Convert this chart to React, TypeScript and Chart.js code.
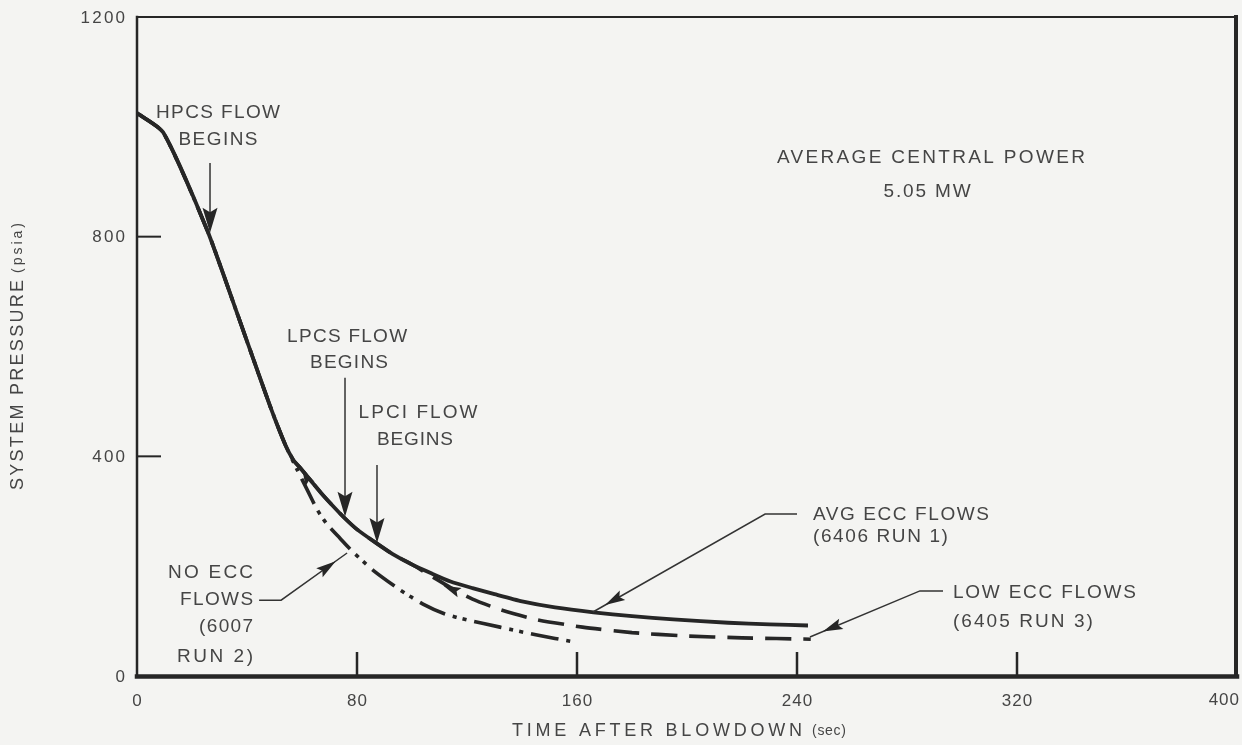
import React, { useEffect, useRef } from "react";
import { Chart, registerables } from "chart.js";

Chart.register(...registerables);

// Time after blowdown (s) and system pressure (psia) for each test.
// Average ECC flows, 6406 run 1 (solid).
const AVG_TIME = [0, 9.5, 25.5, 37, 48.5, 54, 57, 59, 63, 67, 71, 75, 80, 87, 93, 100, 107, 114, 122, 130, 140, 152, 166, 180, 195, 215, 230, 244];
const AVG_PSIA = [1025, 990, 812, 652, 490, 420, 392, 381, 357, 333, 311, 290, 267, 242, 222, 203, 187, 172, 160, 149, 136, 125, 116, 109, 103, 97, 94, 92];

// Low ECC flows, 6405 run 3 (dashed).
const LOW_TIME = [0, 9.5, 25.5, 37, 48.5, 54, 57, 59, 63, 67, 71, 75, 80, 87, 93, 100, 107, 114, 122, 132, 145, 162, 180, 199, 220, 245];
const LOW_PSIA = [1025, 990, 812, 652, 490, 420, 392, 381, 357, 333, 311, 290, 267, 242, 222, 203, 182, 161, 140, 121, 103, 89, 79, 73, 69.5, 67];

// No ECC flows, 6007 run 2 (dash-dot-dot).
const NO_TIME = [0, 9.5, 25.5, 37, 48.5, 54, 58, 62, 65.5, 69, 73.8, 78.5, 86, 95.6, 104, 112, 120, 132, 145, 159];
const NO_PSIA = [1025, 990, 812, 652, 490, 420, 378, 338, 303, 277, 251, 226, 192, 157, 131, 113, 102, 89, 75, 62];

const X_TICKS = [0, 80, 160, 240, 320, 400];
const Y_TICKS = [0, 400, 800, 1200];

const FONT = '"Liberation Sans", Arial, Helvetica, sans-serif';
const INK = "#262626";
const TEXT = "#454545";
const PAPER = "#f4f4f2";

type Align = "left" | "center" | "right";

// Callout text, placed in data units (t = seconds, p = psia).
type Note = { text: string; t: number; p: number; width: number; align: Align; size: number };
const NOTES: Note[] = [
  { text: "HPCS FLOW", t: 29.45, p: 1025, width: 124, align: "center", size: 19 },
  { text: "BEGINS", t: 29.45, p: 976, width: 79, align: "center", size: 19 },
  { text: "LPCS FLOW", t: 76.4, p: 617, width: 120, align: "center", size: 19 },
  { text: "BEGINS", t: 77.1, p: 570, width: 78, align: "center", size: 19 },
  { text: "LPCI FLOW", t: 102.2, p: 479, width: 119, align: "center", size: 19 },
  { text: "BEGINS", t: 101.1, p: 430, width: 76, align: "center", size: 19 },
  { text: "AVERAGE CENTRAL POWER", t: 288.7, p: 943, width: 308, align: "center", size: 19 },
  { text: "5.05 MW", t: 287.3, p: 881, width: 87, align: "center", size: 19 },
  { text: "AVG ECC FLOWS", t: 245.8, p: 293, width: 176, align: "left", size: 19 },
  { text: "(6406 RUN 1)", t: 245.8, p: 253, width: 135, align: "left", size: 19 },
  { text: "LOW ECC FLOWS", t: 296.7, p: 151, width: 183, align: "left", size: 19 },
  { text: "(6405 RUN 3)", t: 296.7, p: 98, width: 140, align: "left", size: 19 },
  { text: "NO ECC", t: 42.2, p: 188, width: 85, align: "right", size: 19 },
  { text: "FLOWS", t: 42.2, p: 138, width: 73, align: "right", size: 19 },
  { text: "(6007", t: 42.2, p: 89, width: 54, align: "right", size: 19 },
  { text: "RUN 2)", t: 42.2, p: 35, width: 76, align: "right", size: 19 },
];

// Vertical "flow begins" arrows: time, top of shaft, tip on the curve.
type Marker = { t: number; from: number; to: number };
const MARKERS: Marker[] = [
  { t: 26.55, from: 934, to: 807 },
  { t: 75.64, from: 543, to: 290 },
  { t: 87.27, from: 384, to: 242 },
];

// Leader lines from the run labels to their curves (poly-lines in data units).
const LEADERS: { t: number[]; p: number[] }[] = [
  { t: [240, 228.4, 165.8], p: [295, 295, 116.5] },
  { t: [293.1, 284.7, 244.7], p: [155, 155, 71] },
  { t: [44.4, 52.4, 76.4], p: [138, 138, 224] },
];

// Small arrowheads sitting on the curves where the runs separate.
const CURVE_HEADS: { tip: [number, number]; tail: [number, number] }[] = [
  { tip: [60, 379], tail: [64, 339] },
  { tip: [111.3, 165], tail: [120, 146] },
];

const toPoints = (t: number[], p: number[]) => t.map((x, i) => ({ x, y: p[i] }));

function drawTracked(
  ctx: CanvasRenderingContext2D,
  text: string,
  x: number,
  y: number,
  size: number,
  spacing: number,
  align: Align
) {
  ctx.font = `${size}px ${FONT}`;
  (ctx as any).letterSpacing = "0px";
  const natural = ctx.measureText(text).width;
  const drawn = natural + spacing * Math.max(0, text.length - 1);
  (ctx as any).letterSpacing = `${spacing}px`;
  const left = align === "left" ? x : align === "center" ? x - drawn / 2 : x - drawn;
  ctx.textAlign = "left";
  ctx.textBaseline = "middle";
  ctx.fillText(text, left, y);
  (ctx as any).letterSpacing = "0px";
}

function drawFitted(
  ctx: CanvasRenderingContext2D,
  text: string,
  x: number,
  y: number,
  size: number,
  width: number,
  align: Align
) {
  ctx.font = `${size}px ${FONT}`;
  (ctx as any).letterSpacing = "0px";
  const natural = ctx.measureText(text).width;
  const spacing = text.length > 1 ? Math.max(0, (width - natural) / (text.length - 1)) : 0;
  drawTracked(ctx, text, x, y, size, spacing, align);
}

function arrowHead(
  ctx: CanvasRenderingContext2D,
  tipX: number,
  tipY: number,
  fromX: number,
  fromY: number,
  len: number,
  half: number
) {
  const a = Math.atan2(tipY - fromY, tipX - fromX);
  const c = Math.cos(a);
  const s = Math.sin(a);
  ctx.beginPath();
  ctx.moveTo(tipX, tipY);
  ctx.lineTo(tipX - len * c + half * s, tipY - len * s - half * c);
  ctx.lineTo(tipX - len * 0.82 * c, tipY - len * 0.82 * s);
  ctx.lineTo(tipX - len * c - half * s, tipY - len * s + half * c);
  ctx.closePath();
  ctx.fill();
}

const paperPlugin = {
  id: "paper",
  beforeDraw(chart: Chart) {
    const ctx = chart.ctx;
    ctx.save();
    ctx.fillStyle = PAPER;
    ctx.fillRect(0, 0, chart.width, chart.height);
    ctx.restore();
  },
};

const framePlugin = {
  id: "frame",
  afterDatasetsDraw(chart: Chart) {
    const ctx = chart.ctx;
    const xs = chart.scales.x;
    const ys = chart.scales.y;
    const { left, right, top, bottom } = chart.chartArea;
    const X = (t: number) => xs.getPixelForValue(t);
    const Y = (p: number) => ys.getPixelForValue(p);

    ctx.save();
    ctx.strokeStyle = INK;
    ctx.lineCap = "square";

    // plot frame: light top and left, heavy bottom and right
    ctx.lineWidth = 2;
    ctx.beginPath();
    ctx.moveTo(left, top);
    ctx.lineTo(right, top);
    ctx.stroke();
    ctx.lineWidth = 2.5;
    ctx.beginPath();
    ctx.moveTo(left, top);
    ctx.lineTo(left, bottom);
    ctx.stroke();
    ctx.lineWidth = 4.5;
    ctx.beginPath();
    ctx.moveTo(left, bottom + 0.5);
    ctx.lineTo(right, bottom + 0.5);
    ctx.stroke();
    ctx.lineWidth = 4;
    ctx.beginPath();
    ctx.moveTo(right - 1, top);
    ctx.lineTo(right - 1, bottom);
    ctx.stroke();

    // inward tick marks
    ctx.lineCap = "butt";
    ctx.lineWidth = 2.5;
    X_TICKS.filter((v) => v > xs.min && v < xs.max).forEach((v) => {
      ctx.beginPath();
      ctx.moveTo(X(v), bottom);
      ctx.lineTo(X(v), bottom - 24);
      ctx.stroke();
    });
    ctx.lineWidth = 2;
    Y_TICKS.filter((v) => v > ys.min && v < ys.max).forEach((v) => {
      ctx.beginPath();
      ctx.moveTo(left, Y(v));
      ctx.lineTo(left + 24, Y(v));
      ctx.stroke();
    });

    // tick labels
    ctx.fillStyle = TEXT;
    Y_TICKS.forEach((v) => drawTracked(ctx, String(v), left - 12, Y(v) + 1, 17, 2.2, "right"));
    X_TICKS.forEach((v) => {
      if (v === xs.max) drawTracked(ctx, String(v), right + 2, bottom + 24, 17, 1, "right");
      else drawTracked(ctx, String(v), X(v), bottom + 25, 17, 1, "center");
    });

    // axis titles
    drawFitted(ctx, "TIME AFTER BLOWDOWN", 512, 731, 18, 290, "left");
    drawFitted(ctx, "(sec)", 812, 731, 14, 34, "left");
    ctx.save();
    ctx.translate(18, 353);
    ctx.rotate(-Math.PI / 2);
    drawFitted(ctx, "SYSTEM PRESSURE", -137, 0, 18, 210, "left");
    drawFitted(ctx, "(psia)", 80, 0, 14, 50, "left");
    ctx.restore();

    // callout text
    NOTES.forEach((n) => drawFitted(ctx, n.text, X(n.t), Y(n.p), n.size, n.width, n.align));

    // "flow begins" arrows
    ctx.strokeStyle = "#333333";
    ctx.fillStyle = INK;
    ctx.lineWidth = 1.5;
    MARKERS.forEach((m) => {
      const x = X(m.t);
      ctx.beginPath();
      ctx.moveTo(x, Y(m.from));
      ctx.lineTo(x, Y(m.to) - 6);
      ctx.stroke();
      arrowHead(ctx, x, Y(m.to), x, Y(m.from), 25, 7.5);
    });

    // leaders with arrowheads set back a little from the curve
    LEADERS.forEach((l) => {
      const px = l.t.map(X);
      const py = l.p.map(Y);
      ctx.beginPath();
      ctx.moveTo(px[0], py[0]);
      for (let i = 1; i < px.length; i++) ctx.lineTo(px[i], py[i]);
      ctx.stroke();
      const n = px.length - 1;
      const dx = px[n] - px[n - 1];
      const dy = py[n] - py[n - 1];
      const d = Math.hypot(dx, dy);
      const tipX = px[n] - (dx / d) * 14;
      const tipY = py[n] - (dy / d) * 14;
      arrowHead(ctx, tipX, tipY, px[n - 1], py[n - 1], 20, 5.5);
    });

    CURVE_HEADS.forEach((h) => {
      arrowHead(ctx, X(h.tip[0]), Y(h.tip[1]), X(h.tail[0]), Y(h.tail[1]), 18, 5);
    });

    ctx.restore();
  },
};

export default function App() {
  const ref = useRef<HTMLCanvasElement>(null);

  useEffect(() => {
    const canvas = ref.current;
    if (!canvas) return;
    const chart = new Chart(canvas, {
      type: "line",
      data: {
        datasets: [
          {
            label: "AVG ECC FLOWS (6406 RUN 1)",
            data: toPoints(AVG_TIME, AVG_PSIA),
            borderColor: INK,
            borderWidth: 3.8,
          },
          {
            label: "LOW ECC FLOWS (6405 RUN 3)",
            data: toPoints(LOW_TIME, LOW_PSIA),
            borderColor: INK,
            borderWidth: 3.6,
            borderDash: [26, 12],
          },
          {
            label: "NO ECC FLOWS (6007 RUN 2)",
            data: toPoints(NO_TIME, NO_PSIA),
            borderColor: INK,
            borderWidth: 3.6,
            borderDash: [28, 8, 4, 6, 4, 8],
          },
        ],
      },
      options: {
        animation: false,
        responsive: false,
        events: [],
        layout: { padding: { left: 0, right: 5, top: 17, bottom: 0 } },
        elements: {
          point: { radius: 0 },
          line: { tension: 0.2, borderCapStyle: "butt", borderJoinStyle: "round" },
        },
        plugins: { legend: { display: false }, tooltip: { enabled: false } },
        scales: {
          x: {
            type: "linear",
            min: 0,
            max: 400,
            grid: { display: false, drawTicks: false },
            border: { display: false },
            ticks: { display: false, stepSize: 80 },
            afterFit: (s: any) => {
              s.height = 69;
              s.paddingLeft = 0;
              s.paddingRight = 0;
            },
          },
          y: {
            type: "linear",
            min: 0,
            max: 1200,
            grid: { display: false, drawTicks: false },
            border: { display: false },
            ticks: { display: false, stepSize: 400 },
            afterFit: (s: any) => {
              s.width = 137;
              s.paddingTop = 0;
              s.paddingBottom = 0;
            },
          },
        },
      },
      plugins: [paperPlugin, framePlugin],
    } as any);
    return () => chart.destroy();
  }, []);

  return (
    <div style={{ position: "fixed", left: 0, top: 0, width: 1242, height: 745, background: PAPER }}>
      <canvas ref={ref} width={1242} height={745} style={{ display: "block", width: 1242, height: 745 }} />
    </div>
  );
}
